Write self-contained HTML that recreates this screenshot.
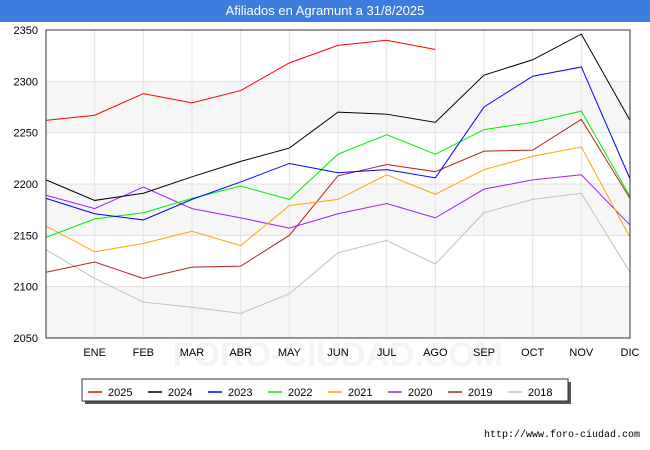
<!DOCTYPE html>
<html><head><meta charset="utf-8"><style>
body{margin:0;background:#fff;font-family:"Liberation Sans",sans-serif}
#t{position:absolute;left:0;top:0;width:650px;height:22px;background:#3b7ddd;color:#fff;font-size:13px;text-align:center;line-height:22px}
</style></head><body>
<div id="t">Afiliados en Agramunt a 31/8/2025</div>
<svg id="c" width="650" height="450" style="position:absolute;left:0;top:0"></svg>
<script>
const months=["","ENE","FEB","MAR","ABR","MAY","JUN","JUL","AGO","SEP","OCT","NOV","DIC"];
const yTicks=[2050,2100,2150,2200,2250,2300,2350];
const seriesNames=["2025","2024","2023","2022","2021","2020","2019","2018"];
const seriesColors=["#ff0000","#000000","#0000ff","#00ee00","#ffa500","#a020f0","#b22222","#c0c0c0"];
const s2025=[2262,2267,2288,2279,2291,2318,2335,2340,2331];
const s2024=[2204,2184,2191,2207,2222,2235,2270,2268,2260,2306,2321,2346,2262];
const s2023=[2186,2171,2165,2185,2202,2220,2211,2214,2206,2275,2305,2314,2205];
const s2022=[2148,2166,2172,2186,2198,2185,2229,2248,2229,2253,2260,2271,2188];
const s2021=[2159,2134,2142,2154,2140,2179,2185,2209,2190,2214,2227,2236,2148];
const s2020=[2189,2176,2197,2176,2167,2157,2171,2181,2167,2195,2204,2209,2160];
const s2019=[2114,2124,2108,2119,2120,2150,2208,2219,2212,2232,2233,2263,2186];
const s2018=[2136,2108,2085,2080,2074,2093,2133,2145,2122,2172,2185,2191,2114];
const series=[s2025,s2024,s2023,s2022,s2021,s2020,s2019,s2018];
const L=46,R=630,T=30,B=338,ymin=2050,ymax=2350;
const x=i=>L+i*(R-L)/12;
const y=v=>B-(v-ymin)*(B-T)/(ymax-ymin);
const svg=document.getElementById('c');const NS="http://www.w3.org/2000/svg";
function mk(tag,at,txt){const e=document.createElementNS(NS,tag);for(const k in at)e.setAttribute(k,at[k]);if(txt!=null)e.textContent=txt;svg.appendChild(e);return e;}
for(let i=0;i<yTicks.length-1;i+=2){
 const b=mk('rect',{x:L,y:y(yTicks[i+1]),width:R-L,height:y(yTicks[i])-y(yTicks[i+1]),fill:'#f6f6f6'});
 
 
}
const wm=mk('text',{x:338,y:366,'text-anchor':'middle','font-size':34,fill:'#f3f4f7','font-weight':'bold'},'FORO-CIUDAD.COM');


yTicks.forEach(v=>{
 const l=mk('line',{x1:L,x2:R,y1:y(v),y2:y(v),stroke:'#e0e0e0'});
 
 
 const t=mk('text',{x:L-8,y:y(v)+4,'text-anchor':'end','font-size':11,fill:'#000'},v);
 
 
});
months.forEach((m,i)=>{
 if(i>0){const l=mk('line',{x1:x(i),x2:x(i),y1:T,y2:B,stroke:'#e4e4e4'});
 
 }
 const t=mk('text',{x:x(i),y:B+18,'text-anchor':'middle','font-size':11},m);
 
 
});
for(let s=series.length-1;s>=0;s--){
 const p=mk('polyline',{points:series[s].map((v,i)=>x(i)+','+y(v)).join(' '),fill:'none',stroke:seriesColors[s],'stroke-width':1});
 
 
}
const fr=mk('rect',{x:L,y:T,width:R-L,height:B-T,fill:'none',stroke:'#333'});


const sh=mk('rect',{x:85,y:382,width:486,height:22,fill:'#555'});


const lb=mk('rect',{x:82,y:379,width:486,height:22,fill:'#fff',stroke:'#333'});


seriesNames.forEach((n,i)=>{
 const lx=88+i*60;
 const ll=mk('line',{x1:lx,x2:lx+14,y1:392,y2:392,stroke:seriesColors[i],'stroke-width':1.5});
 
 
 const lt=mk('text',{x:lx+20,y:396,'font-size':11},n);
 
 
});
const u=mk('text',{x:640,y:437,'text-anchor':'end','font-size':10,'font-family':'Liberation Mono, monospace'},'http://www.foro-ciudad.com');


</script>
</body></html>
